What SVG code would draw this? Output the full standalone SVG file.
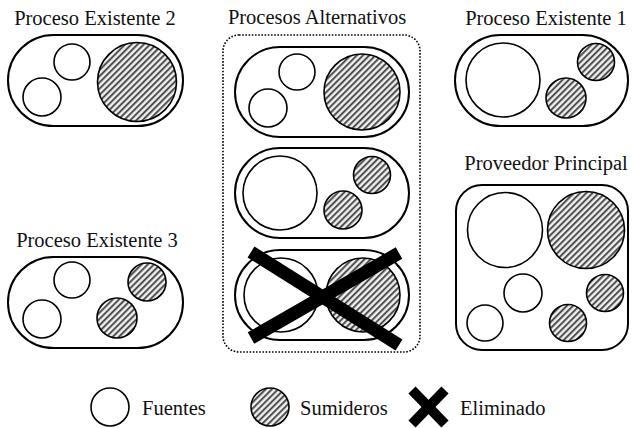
<svg xmlns="http://www.w3.org/2000/svg" width="632" height="428" viewBox="0 0 632 428">
<defs>
<pattern id="hatch" patternUnits="userSpaceOnUse" width="4.4" height="4.4" patternTransform="rotate(45)">
<rect width="4.4" height="4.4" fill="#f2f2f2"/>
<line x1="1.1" y1="0" x2="1.1" y2="4.4" stroke="#444" stroke-width="1.9"/>
</pattern>
<style>
.lbl{font-family:"Liberation Serif","Times New Roman",serif;font-size:20.5px;fill:#111;}
.pill{fill:none;stroke:#000;stroke-width:2;}
.src{fill:#fff;stroke:#000;stroke-width:1.6;}
.snk{fill:url(#hatch);stroke:#000;stroke-width:1.6;}
.xbar{stroke:#000;stroke-width:13;stroke-linecap:butt;}
.xleg{stroke:#000;stroke-width:10;stroke-linecap:butt;}
</style>
</defs>
<rect width="632" height="428" fill="#fff"/>

<g id="pe2">
<text class="lbl" x="95" y="25" text-anchor="middle">Proceso Existente 2</text>
<rect class="pill" x="8" y="35" width="175" height="91" rx="45.5"/>
<circle class="src" cx="72" cy="62" r="18"/>
<circle class="src" cx="42" cy="97" r="19"/>
<circle class="snk" cx="137" cy="82" r="39.5"/>
</g>

<g id="pe3">
<text class="lbl" x="97" y="247" text-anchor="middle">Proceso Existente 3</text>
<rect class="pill" x="8" y="257" width="175" height="91" rx="45.5"/>
<circle class="src" cx="72" cy="280" r="18"/>
<circle class="src" cx="42" cy="319" r="19"/>
<circle class="snk" cx="147" cy="282" r="19"/>
<circle class="snk" cx="117" cy="318" r="20"/>
</g>

<g id="pa">
<text class="lbl" x="317" y="24" text-anchor="middle">Procesos Alternativos</text>
<rect x="223" y="35" width="197" height="317" rx="16" fill="none" stroke="#000" stroke-width="1.6" stroke-dasharray="1.6 1.6"/>
<g id="pa1">
<rect class="pill" x="235" y="47" width="174" height="90" rx="45"/>
<circle class="src" cx="297" cy="72" r="18"/>
<circle class="src" cx="268" cy="108" r="19"/>
<circle class="snk" cx="362" cy="92" r="38"/>
</g>
<g id="pa2">
<rect class="pill" x="235" y="148" width="174" height="90" rx="45"/>
<circle class="src" cx="280" cy="193" r="37"/>
<circle class="snk" cx="372" cy="175" r="18.5"/>
<circle class="snk" cx="343" cy="210" r="19"/>
</g>
<g id="pa3">
<rect class="pill" x="235" y="250" width="174" height="90" rx="45"/>
<circle class="src" cx="281" cy="295" r="37"/>
<circle class="snk" cx="363" cy="295" r="37"/>
<line class="xbar" x1="251" y1="252" x2="399" y2="345"/>
<line class="xbar" x1="399" y1="253" x2="251" y2="338"/>
</g>
</g>

<g id="pe1">
<text class="lbl" x="546" y="25" text-anchor="middle">Proceso Existente 1</text>
<rect class="pill" x="455" y="35" width="173" height="91" rx="45.5"/>
<circle class="src" cx="503" cy="80" r="37"/>
<circle class="snk" cx="596" cy="62" r="18.5"/>
<circle class="snk" cx="566" cy="98" r="20"/>
</g>

<g id="pp">
<text class="lbl" x="546" y="170" text-anchor="middle">Proveedor Principal</text>
<rect class="pill" x="456" y="185" width="172" height="165" rx="26"/>
<circle class="src" cx="505" cy="230" r="37.5"/>
<circle class="snk" cx="586" cy="230" r="38.5"/>
<circle class="src" cx="523" cy="293" r="19"/>
<circle class="snk" cx="605" cy="293" r="18.5"/>
<circle class="src" cx="485" cy="323" r="18"/>
<circle class="snk" cx="568" cy="323" r="18.5"/>
</g>

<g id="legend">
<circle class="src" cx="110" cy="407" r="19"/>
<text class="lbl" x="142" y="415">Fuentes</text>
<circle class="snk" cx="270" cy="407" r="19"/>
<text class="lbl" x="300" y="415">Sumideros</text>
<line class="xleg" x1="412" y1="390" x2="445" y2="424"/>
<line class="xleg" x1="445" y1="390" x2="412" y2="424"/>
<text class="lbl" x="460" y="415">Eliminado</text>
</g>
<g id="connectors"/>
</svg>
